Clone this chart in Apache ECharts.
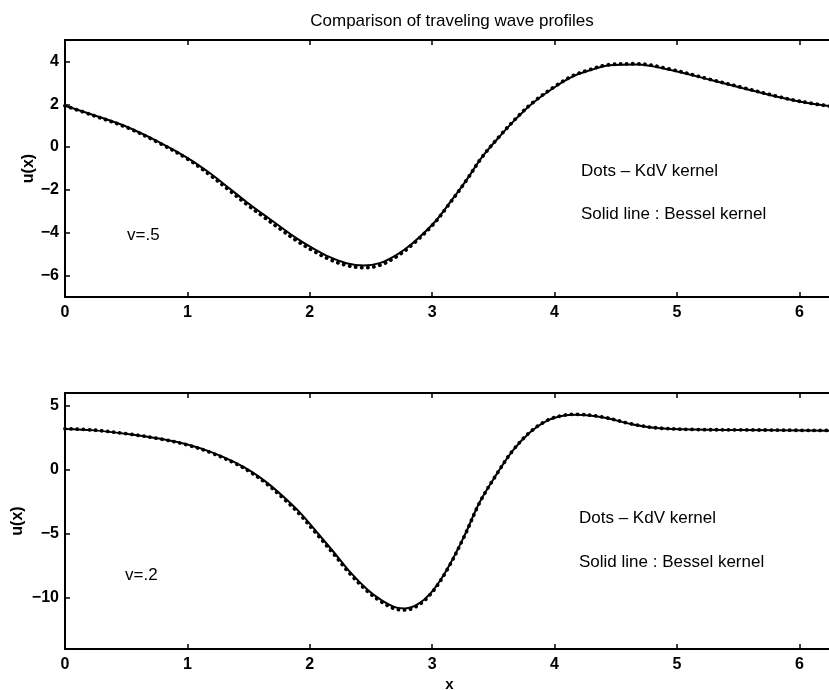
<!DOCTYPE html>
<html>
<head>
<meta charset="utf-8">
<script src="https://cdn.jsdelivr.net/npm/echarts@6/dist/echarts.min.js"></script>
<style>
html, body { margin: 0; padding: 0; background: #fff; overflow: hidden; }
#chart { width: 840px; height: 690px; }
</style>
</head>
<body>
<div id="chart"></div>
<script>
// v = .5 (upper panel)
const xTop = [0.00, 0.23, 0.50, 0.78, 1.00, 1.18, 1.35, 1.48, 1.62, 1.76, 1.89, 2.03, 2.16, 2.30, 2.44, 2.57, 2.71, 2.84, 3.01, 3.14, 3.28, 3.41, 3.55, 3.69, 3.82, 4.01, 4.15, 4.27, 4.45, 4.67, 4.94, 5.27, 5.54, 5.81, 6.00, 6.2832]
const besselTop = [1.93, 1.50, 0.96, 0.20, -0.50, -1.20, -1.96, -2.55, -3.14, -3.72, -4.25, -4.74, -5.13, -5.42, -5.53, -5.42, -5.03, -4.49, -3.57, -2.63, -1.54, -0.45, 0.49, 1.35, 2.05, 2.83, 3.30, 3.55, 3.82, 3.86, 3.61, 3.14, 2.75, 2.36, 2.13, 1.88]
const kdvTop = [1.93, 1.48, 0.93, 0.16, -0.55, -1.28, -2.05, -2.65, -3.25, -3.83, -4.36, -4.85, -5.24, -5.52, -5.63, -5.52, -5.11, -4.54, -3.60, -2.65, -1.55, -0.45, 0.50, 1.37, 2.07, 2.86, 3.33, 3.58, 3.85, 3.89, 3.64, 3.16, 2.77, 2.38, 2.14, 1.88]

// v = .2 (lower panel)
const xBottom = [0.00, 0.24, 0.51, 0.78, 1.00, 1.19, 1.38, 1.52, 1.65, 1.79, 1.92, 2.06, 2.20, 2.33, 2.47, 2.58, 2.71, 2.78, 2.88, 2.99, 3.12, 3.26, 3.39, 3.53, 3.66, 3.80, 3.94, 4.07, 4.18, 4.40, 4.62, 4.83, 5.13, 5.54, 6.2832]
const besselBottom = [3.19, 3.08, 2.80, 2.42, 1.97, 1.40, 0.62, -0.12, -1.00, -2.15, -3.35, -4.90, -6.48, -8.00, -9.35, -10.15, -10.77, -10.83, -10.52, -9.61, -7.80, -5.22, -2.50, -0.30, 1.51, 2.93, 3.84, 4.22, 4.30, 4.09, 3.58, 3.27, 3.14, 3.11, 3.06]
const kdvBottom = [3.21, 3.10, 2.81, 2.41, 1.94, 1.35, 0.55, -0.21, -1.11, -2.28, -3.50, -5.05, -6.63, -8.14, -9.48, -10.28, -10.90, -10.95, -10.62, -9.68, -7.85, -5.25, -2.52, -0.30, 1.52, 2.95, 3.86, 4.25, 4.33, 4.11, 3.60, 3.28, 3.15, 3.12, 3.07]

const X_MAX = 6.2832
const FONT = '"Liberation Sans", Arial, Helvetica, sans-serif'

const zip = (xs, ys) => xs.map((x, i) => [x, ys[i]])
const minus = (v) => String(v).replace('-', '\u2212')

const chart = echarts.init(document.getElementById('chart'))

// 坐标轴公共样式
const lineStyle = { color: '#000', width: 2 }
const tick = { show: true, inside: true, length: 5, lineStyle: { color: '#000', width: 1.5 } }
const label = { color: '#000', fontFamily: FONT, fontWeight: 'bold', fontSize: 16, formatter: minus }

const makeX = (gridIndex, position, showLabel, name) => ({
  type: 'value',
  gridIndex,
  position,
  min: 0,
  max: X_MAX,
  interval: 1,
  name: name || '',
  nameLocation: 'middle',
  nameGap: 28,
  nameMoveOverlap: false,
  nameTextStyle: { color: '#000', fontFamily: FONT, fontWeight: 'bold', fontSize: 15 },
  axisLine: { show: true, onZero: false, lineStyle },
  axisTick: tick,
  axisLabel: Object.assign({}, label, { show: showLabel, margin: 8, showMaxLabel: false }),
  splitLine: { show: false }
})

const makeY = (gridIndex, position, min, max, splitNumber, showLabel, nameGap) => ({
  type: 'value',
  gridIndex,
  position,
  min,
  max,
  splitNumber,
  name: showLabel ? 'u(x)' : '',
  nameLocation: 'middle',
  nameGap: nameGap || 30,
  nameRotate: 90,
  nameMoveOverlap: false,
  nameTextStyle: { color: '#000', fontFamily: FONT, fontWeight: 'bold', fontSize: 16 },
  axisLine: { show: true, onZero: false, lineStyle },
  axisTick: tick,
  axisLabel: Object.assign({}, label, { show: showLabel, margin: 6, showMinLabel: false, showMaxLabel: false }),
  splitLine: { show: false }
})

const solid = (xi, yi, data) => ({
  type: 'line', xAxisIndex: xi, yAxisIndex: yi, data,
  showSymbol: false, smooth: 0.35, z: 2,
  lineStyle: { color: '#000', width: 2 }
})

const dots = (xi, yi, data) => ({
  type: 'line', xAxisIndex: xi, yAxisIndex: yi, data,
  showSymbol: false, smooth: 0.35, z: 3,
  lineStyle: { color: '#000', width: 3.8, type: [0.1, 6], cap: 'round' }
})

const text = (str, x, y, opts) => ({
  type: 'text', x, y,
  style: Object.assign({
    text: str, fill: '#000', font: '17px ' + FONT,
    align: 'left', verticalAlign: 'middle'
  }, opts || {})
})

const option = {
  animation: false,
  backgroundColor: '#fff',
  grid: [
    { left: 65, top: 40, width: 769, height: 257, outerBoundsMode: 'none', containLabel: false },
    { left: 65, top: 393, width: 769, height: 256, outerBoundsMode: 'none', containLabel: false }
  ],
  xAxis: [
    makeX(0, 'bottom', true),
    makeX(0, 'top', false),
    makeX(1, 'bottom', true, 'x'),
    makeX(1, 'top', false)
  ],
  yAxis: [
    makeY(0, 'left', -7, 5, 6, true, 28),
    makeY(0, 'right', -7, 5, 6, false),
    makeY(1, 'left', -14, 6, 4, true, 39),
    makeY(1, 'right', -14, 6, 4, false)
  ],
  series: [
    solid(0, 0, zip(xTop, besselTop)),
    dots(0, 0, zip(xTop, kdvTop)),
    solid(2, 2, zip(xBottom, besselBottom)),
    dots(2, 2, zip(xBottom, kdvBottom))
  ],
  graphic: [
    text('Comparison of traveling wave profiles', 452, 21, { align: 'center' }),
    text('Dots \u2013 KdV kernel', 581, 171),
    text('Solid line : Bessel kernel', 581, 214),
    text('v=.5', 127, 235),
    text('Dots \u2013 KdV kernel', 579, 518),
    text('Solid line : Bessel kernel', 579, 562),
    text('v=.2', 125, 575)
  ]
}

chart.setOption(option)
</script>
</body>
</html>
